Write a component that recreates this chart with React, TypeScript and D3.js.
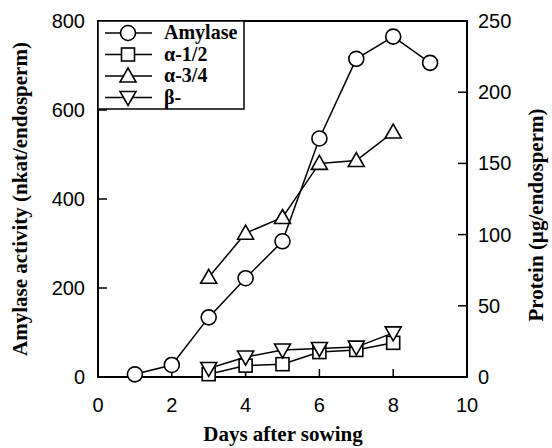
import React from 'react';
import * as d3 from 'd3';

const W = 552;
const H = 448;
const left = 98;
const right = 467;
const top = 21;
const bottom = 377;

// amylase activity, left axis
const amylaseDays = [1, 2, 3, 4, 5, 6, 7, 8, 9];
const amylase = [6, 27, 134, 222, 305, 536, 715, 765, 706];
// protein, right axis
const proteinDays = [3, 4, 5, 6, 7, 8];
const alpha12 = [2, 8, 9, 17.5, 19, 24];
const alpha34 = [70, 101, 112, 150, 152, 172];
const beta = [6, 14, 19, 20, 21, 31];

const xTicks = [0, 2, 4, 6, 8, 10];
const yLeftTicks = [0, 200, 400, 600, 800];
const yRightTicks = [0, 50, 100, 150, 200, 250];

const legendItems = ['Amylase', 'α-1/2', 'α-3/4', 'β-'];
const legendShapes = ['circle', 'square', 'up', 'down'];

const x = d3.scaleLinear().domain([0, 10]).range([left, right]);
const yL = d3.scaleLinear().domain([0, 800]).range([bottom, top]);
const yR = d3.scaleLinear().domain([0, 250]).range([bottom, top]);

const serif = '"Liberation Serif", "Times New Roman", serif';
const sans = '"Liberation Sans", Arial, sans-serif';

function Marker({ shape, cx, cy }: { shape: string; cx: number; cy: number }) {
  const common = { fill: 'white', stroke: 'black', strokeWidth: 1.6 };
  if (shape === 'circle') return <circle cx={cx} cy={cy} r={7.5} {...common} />;
  if (shape === 'square') return <rect x={cx - 6.5} y={cy - 6.5} width={13} height={13} {...common} />;
  if (shape === 'up')
    return <path d={`M${cx},${cy - 8}L${cx + 8},${cy + 6}L${cx - 8},${cy + 6}Z`} {...common} />;
  return <path d={`M${cx},${cy + 8}L${cx + 8},${cy - 6}L${cx - 8},${cy - 6}Z`} {...common} />;
}

function Series({ days, vals, y, shape }: { days: number[]; vals: number[]; y: d3.ScaleLinear<number, number>; shape: string }) {
  const line = d3.line<number>().x((d, i) => x(days[i])).y((d) => y(d));
  return (
    <g>
      <path d={line(vals) || ''} fill="none" stroke="black" strokeWidth={1.5} />
      {vals.map((v, i) => (
        <Marker key={i} shape={shape} cx={x(days[i])} cy={y(v)} />
      ))}
    </g>
  );
}

export default function App() {
  return (
    <svg width={W} height={H} style={{ position: 'absolute', left: 0, top: 0, background: 'white' }}>
      <rect x={left} y={top} width={right - left} height={bottom - top} fill="none" stroke="black" strokeWidth={2} />
      {xTicks.slice(1, -1).map((t) => (
        <line key={t} x1={x(t)} x2={x(t)} y1={bottom} y2={bottom - 8} stroke="black" strokeWidth={1.5} />
      ))}
      {yLeftTicks.slice(1, -1).map((t) => (
        <line key={t} x1={left} x2={left + 9} y1={yL(t)} y2={yL(t)} stroke="black" strokeWidth={1.5} />
      ))}
      {yRightTicks.slice(1, -1).map((t) => (
        <line key={t} x1={right} x2={right - 9} y1={yR(t)} y2={yR(t)} stroke="black" strokeWidth={1.5} />
      ))}
      {xTicks.map((t) => (
        <text key={t} x={x(t)} y={412} textAnchor="middle" fontFamily={sans} fontSize={20}>{t}</text>
      ))}
      {yLeftTicks.map((t) => (
        <text key={t} x={85} y={yL(t) + 7} textAnchor="end" fontFamily={sans} fontSize={20}>{t}</text>
      ))}
      {yRightTicks.map((t) => (
        <text key={t} x={478} y={yR(t) + 7} textAnchor="start" fontFamily={sans} fontSize={20}>{t}</text>
      ))}
      <text x={283} y={441} textAnchor="middle" fontFamily={serif} fontWeight="bold" fontSize={21}>Days after sowing</text>
      <text transform={`translate(27,${(top + bottom) / 2}) rotate(-90)`} textAnchor="middle" fontFamily={serif} fontWeight="bold" fontSize={21}>
        Amylase activity (nkat/endosperm)
      </text>
      <text transform={`translate(543,215) rotate(-90)`} textAnchor="middle" fontFamily={serif} fontWeight="bold" fontSize={21}>
        Protein (µg/endosperm)
      </text>

      <Series days={proteinDays} vals={alpha34} y={yR} shape="up" />
      <Series days={proteinDays} vals={alpha12} y={yR} shape="square" />
      <Series days={proteinDays} vals={beta} y={yR} shape="down" />
      <Series days={amylaseDays} vals={amylase} y={yL} shape="circle" />

      <rect x={left} y={top} width={146} height={88} fill="white" stroke="black" strokeWidth={1.5} />
      {legendItems.map((name, i) => {
        const ly = 33 + i * 21.5;
        return (
          <g key={name}>
            <line x1={105} x2={152} y1={ly} y2={ly} stroke="black" strokeWidth={1.5} />
            <Marker shape={legendShapes[i]} cx={128} cy={ly} />
            <text x={164} y={ly + 6} fontFamily={serif} fontWeight="bold" fontSize={20}>{name}</text>
          </g>
        );
      })}
    </svg>
  );
}
